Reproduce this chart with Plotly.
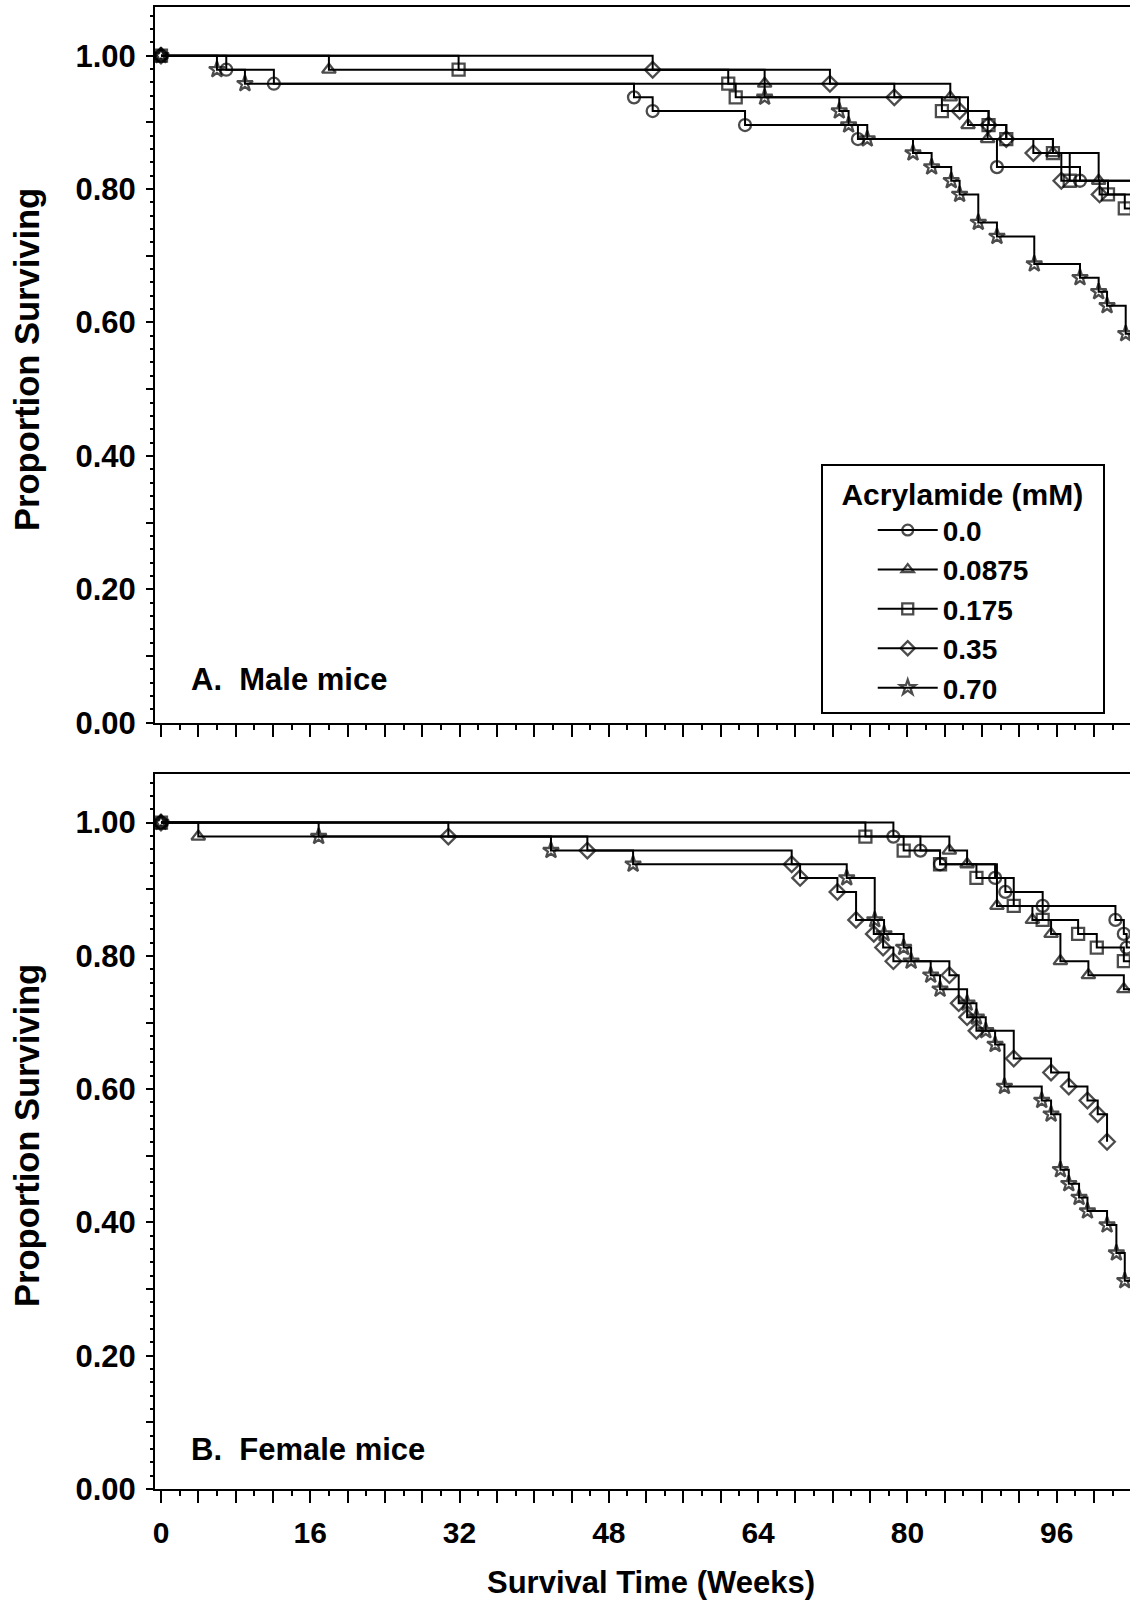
import plotly.graph_objects as go

# ---------------- data (weeks, proportion surviving) ----------------
GROUPS = ["0.0", "0.0875", "0.175", "0.35", "0.70"]
SYMBOLS = ["circle-open", "triangle-up-open", "square-open", "diamond-open", "star-open"]

# Male mice
M_00_T = [0, 7.0, 12.1, 50.7, 52.7, 62.6, 74.7, 89.6, 98.5]
M_00_S = [1.0, 0.979, 0.958, 0.9375, 0.917, 0.896, 0.875, 0.833, 0.8125]
M_0875_T = [0, 18.0, 64.7, 84.6, 86.5, 88.6, 95.6, 100.5]
M_0875_S = [1.0, 0.979, 0.958, 0.9375, 0.896, 0.875, 0.854, 0.8125]
M_175_T = [0, 31.9, 60.8, 61.6, 83.7, 88.7, 90.6, 95.6, 97.4, 101.5, 103.3]
M_175_S = [1.0, 0.979, 0.958, 0.9375, 0.917, 0.896, 0.875, 0.854, 0.8125, 0.792, 0.771]
M_35_T = [0, 52.7, 71.7, 78.6, 85.6, 88.7, 90.6, 93.5, 96.5, 100.6]
M_35_S = [1.0, 0.979, 0.958, 0.9375, 0.917, 0.896, 0.875, 0.854, 0.8125, 0.792]
M_70_T = [0, 6.0, 9.0, 64.7, 72.7, 73.7, 75.7, 80.6, 82.6, 84.7, 85.6, 87.6, 89.6,
          93.6, 98.5, 100.5, 101.4, 103.4]
M_70_S = [1.0, 0.979, 0.958, 0.9375, 0.917, 0.896, 0.875, 0.854, 0.833, 0.8125, 0.792,
          0.75, 0.729, 0.6875, 0.667, 0.646, 0.625, 0.583]

# Female mice
F_00_T = [0, 78.5, 81.4, 83.5, 89.4, 90.5, 94.5, 102.3, 103.2, 103.5]
F_00_S = [1.0, 0.979, 0.958, 0.9375, 0.917, 0.896, 0.875, 0.854, 0.833, 0.8125]
F_0875_T = [0, 4.0, 84.5, 86.4, 89.6, 93.4, 95.4, 96.4, 99.4, 103.2]
F_0875_S = [1.0, 0.979, 0.958, 0.9375, 0.875, 0.854, 0.833, 0.792, 0.771, 0.75]
F_175_T = [0, 75.5, 79.6, 83.5, 87.4, 91.4, 94.5, 98.3, 100.3, 103.2]
F_175_S = [1.0, 0.979, 0.958, 0.9375, 0.917, 0.875, 0.854, 0.833, 0.8125, 0.792]
F_35_T = [0, 30.8, 45.7, 67.6, 68.5, 72.5, 74.5, 76.4, 77.4, 78.5, 84.5, 85.5, 86.4,
          87.4, 91.4, 95.4, 97.3, 99.3, 100.4, 101.4]
F_35_S = [1.0, 0.979, 0.958, 0.9375, 0.917, 0.896, 0.854, 0.833, 0.8125, 0.792, 0.771,
          0.729, 0.708, 0.6875, 0.646, 0.625, 0.604, 0.583, 0.5625, 0.521]
F_70_T = [0, 16.9, 41.8, 50.6, 73.5, 76.5, 77.5, 79.6, 80.4, 82.5, 83.5, 86.4, 87.4,
          88.4, 89.4, 90.4, 94.4, 95.4, 96.4, 97.3, 98.4, 99.3, 101.4, 102.4, 103.3]
F_70_S = [1.0, 0.979, 0.958, 0.9375, 0.917, 0.854, 0.833, 0.8125, 0.792, 0.771, 0.75,
          0.729, 0.708, 0.6875, 0.667, 0.604, 0.583, 0.5625, 0.479, 0.458, 0.4375,
          0.417, 0.396, 0.354, 0.3125]

MALE = [(M_00_T, M_00_S, True), (M_0875_T, M_0875_S, True), (M_175_T, M_175_S, True),
        (M_35_T, M_35_S, True), (M_70_T, M_70_S, True)]
FEMALE = [(F_00_T, F_00_S, True), (F_0875_T, F_0875_S, True), (F_175_T, F_175_S, True),
          (F_35_T, F_35_S, False), (F_70_T, F_70_S, True)]
STUDY_END = 104.5

X_TICKS = list(range(0, 104, 4))
X_LABELS = ["0", "16", "32", "48", "64", "80", "96"]
Y_TICKS = [0.0, 0.1, 0.2, 0.3, 0.4, 0.5, 0.6, 0.7, 0.8, 0.9, 1.0]
Y_LABELS = ["0.00", "0.20", "0.40", "0.60", "0.80", "1.00"]

FONT = "Liberation Sans, Arial, sans-serif"

fig = go.Figure()

def add_panel(series, xa, ya, showlegend):
    for (t, s, extend), name, sym in zip(series, GROUPS, SYMBOLS):
        xs = list(t)
        ys = list(s)
        sizes = [12] * len(xs)
        if extend:
            xs.append(STUDY_END)
            ys.append(s[-1])
            sizes.append(0)
        fig.add_trace(go.Scatter(
            x=xs, y=ys, mode="lines+markers", name=name,
            line=dict(shape="hv", color="black", width=2),
            marker=dict(symbol=sym, size=sizes, color="black",
                        line=dict(color="black", width=2.3)),
            xaxis=xa, yaxis=ya, showlegend=showlegend,
        ))

add_panel(MALE, "x", "y", True)
add_panel(FEMALE, "x2", "y2", False)

x_text = [str(v) if str(v) in X_LABELS else "" for v in X_TICKS]
y_text = [("%.2f" % v) if ("%.2f" % v) in Y_LABELS else "" for v in Y_TICKS]

xaxis_common = dict(
    range=[-0.64, 103.86], tickmode="array", tickvals=X_TICKS,
    ticks="outside", ticklen=12, tickwidth=2, tickcolor="black",
    showline=True, linecolor="black", linewidth=2, mirror=True,
    showgrid=False, zeroline=False,
    minor=dict(tickmode="linear", tick0=0, dtick=2, ticks="outside",
               ticklen=5, tickwidth=2, tickcolor="black", showgrid=False),
    tickfont=dict(family=FONT, size=30, color="black", weight="bold"),
)
yaxis_common = dict(
    range=[0, 1.073], tickmode="array", tickvals=Y_TICKS, ticktext=y_text,
    ticks="outside", ticklen=7, tickwidth=2, tickcolor="black",
    showline=True, linecolor="black", linewidth=2, mirror=False,
    showgrid=False, zeroline=False, ticklabelstandoff=4,
    minor=dict(tickmode="linear", tick0=0, dtick=0.02, ticks="outside",
               ticklen=3.5, tickwidth=2, tickcolor="black", showgrid=False),
    tickfont=dict(family=FONT, size=31, color="black", weight="bold"),
)

fig.update_layout(
    width=1130, height=1604,
    margin=dict(l=155, r=0, t=7, b=115),
    paper_bgcolor="white", plot_bgcolor="white",
    font=dict(family=FONT, color="black"),
    xaxis=dict(xaxis_common, domain=[0, 1], anchor="y", ticktext=[""] * len(X_TICKS)),
    yaxis=dict(yaxis_common, domain=[0.5171, 1.0], anchor="x"),
    xaxis2=dict(xaxis_common, domain=[0, 1], anchor="y2", ticktext=x_text,
                ticklabelstandoff=4),
    yaxis2=dict(yaxis_common, domain=[0.0, 0.4825], anchor="x2"),
    legend=dict(
        title=dict(text="\u00a0\u00a0Acrylamide (mM)\u00a0\u00a0",
                   font=dict(family=FONT, size=30, color="black", weight="bold")),
        font=dict(family=FONT, size=28, color="black", weight="bold"),
        x=0.6828, y=0.6914, xanchor="left", yanchor="top",
        bordercolor="black", borderwidth=2, bgcolor="white",
        itemwidth=60, indentation=50, tracegroupgap=0,
    ),
    showlegend=True,
)

def label(text, x, y, xref, yref, size, angle=0, xanchor="center"):
    fig.add_annotation(text=text, x=x, y=y, xref=xref, yref=yref, showarrow=False,
                       textangle=angle, xanchor=xanchor, yanchor="middle",
                       font=dict(family=FONT, size=size, color="black", weight="bold"))

label("A.\u00a0 Male mice", 3.0, 0.064, "x", "y", 31, xanchor="left")
label("B.\u00a0 Female mice", 3.0, 0.06, "x2", "y2", 31, xanchor="left")
label("Proportion Surviving", -0.1313, 0.7625, "paper", "paper", 34.5, angle=-90)
label("Proportion Surviving", -0.1313, 0.2389, "paper", "paper", 34.5, angle=-90)
label("Survival Time (Weeks)", (651 - 155) / 975, -0.0634, "paper", "paper", 31)

fig.write_html("out.html",
               config={"displayModeBar": False},
               post_script="document.body.style.margin='0';"
                           "document.body.style.overflow='hidden';")
